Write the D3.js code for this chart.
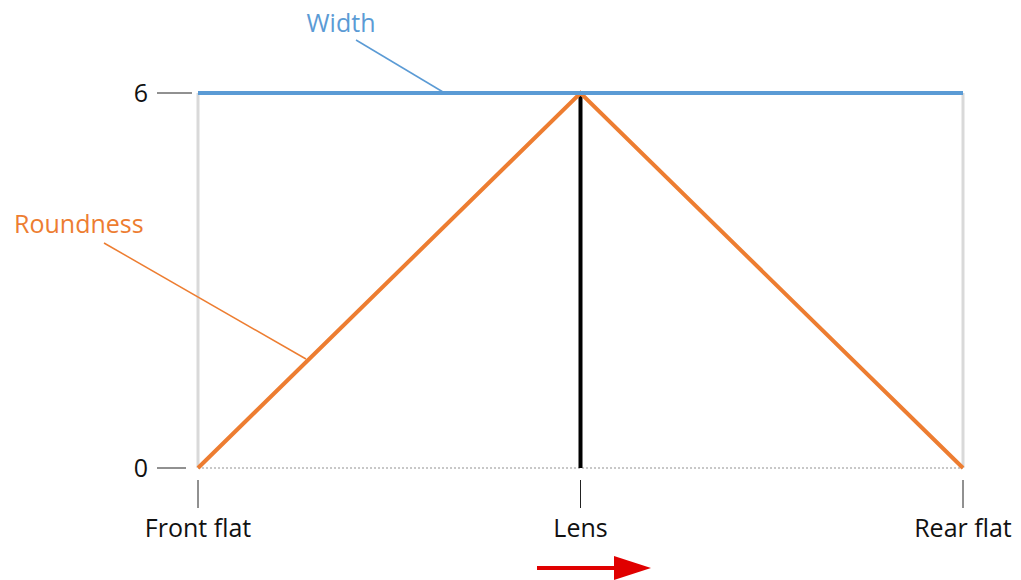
<!DOCTYPE html>
<html>
<head>
<meta charset="utf-8">
<script src="https://cdn.jsdelivr.net/npm/d3@7"></script>
<style>
  body { margin: 0; background: #fff; }
  text { font-family: "Open Sans", Lato, sans-serif; }
</style>
</head>
<body>
<div id="chart"></div>
<script>
const categories = ["Front flat", "Lens", "Rear flat"];
const widthValues = [6, 6, 6];
const roundnessValues = [0, 6, 0];
const lensValues = [0, 6];
const yTicks = [0, 6];

const width = 1021,
  height = 580;

const svg = d3.select("#chart")
  .append("svg")
  .attr("width", width)
  .attr("height", height);

const x = d3.scalePoint()
  .domain(categories)
  .range([198, 963]);

const y = d3.scaleLinear()
  .domain([0, 6])
  .range([468, 93]);

// gray frame at the ends
svg.append("g")
  .selectAll("line")
  .data([categories[0], categories[2]])
  .join("line")
  .attr("x1", d => x(d)).attr("x2", d => x(d))
  .attr("y1", y(6)).attr("y2", y(0))
  .attr("stroke", "#d9d9d9")
  .attr("stroke-width", 3);

// dotted baseline
svg.append("line")
  .attr("x1", x(categories[0])).attr("x2", x(categories[2]))
  .attr("y1", y(0)).attr("y2", y(0))
  .attr("stroke", "#c8c8c8")
  .attr("stroke-width", 2)
  .attr("stroke-dasharray", "2,2");

// y ticks
const yAxis = svg.append("g");
yAxis.selectAll("line")
  .data(yTicks)
  .join("line")
  .attr("x1", 157).attr("x2", d => d == 6 ? 192 : 186)
  .attr("y1", d => y(d)).attr("y2", d => y(d))
  .attr("stroke", "#222")
  .attr("stroke-width", 1);
yAxis.selectAll("text")
  .data(yTicks)
  .join("text")
  .attr("x", 148)
  .attr("y", d => y(d) + 9)
  .attr("text-anchor", "end")
  .attr("font-size", 25)
  .attr("fill", "#111")
  .text(d => d);

// x ticks
const xAxis = svg.append("g");
xAxis.selectAll("line")
  .data(categories)
  .join("line")
  .attr("x1", d => x(d)).attr("x2", d => x(d))
  .attr("y1", 480).attr("y2", 508)
  .attr("stroke", "#222")
  .attr("stroke-width", 1);
xAxis.selectAll("text")
  .data(categories)
  .join("text")
  .attr("x", d => x(d))
  .attr("y", 537)
  .attr("text-anchor", "middle")
  .attr("font-size", 25)
  .attr("fill", "#111")
  .text(d => d);

// lens (black vertical)
svg.append("line")
  .attr("x1", x("Lens")).attr("x2", x("Lens"))
  .attr("y1", y(lensValues[0])).attr("y2", y(lensValues[1]))
  .attr("stroke", "#000")
  .attr("stroke-width", 4);

const line = d3.line()
  .x((d, i) => x(categories[i]))
  .y(d => y(d));

svg.append("path")
  .datum(roundnessValues)
  .attr("d", line)
  .attr("fill", "none")
  .attr("stroke", "#ed7d31")
  .attr("stroke-width", 4)
  .attr("stroke-linejoin", "miter");

svg.append("path")
  .datum(widthValues)
  .attr("d", line)
  .attr("fill", "none")
  .attr("stroke", "#5b9bd5")
  .attr("stroke-width", 4);

// callouts
svg.append("line")
  .attr("x1", 356).attr("y1", 40).attr("x2", 443).attr("y2", 92)
  .attr("stroke", "#5b9bd5").attr("stroke-width", 1.5);
svg.append("text")
  .attr("x", 341).attr("y", 32)
  .attr("text-anchor", "middle")
  .attr("font-size", 25)
  .attr("fill", "#5b9bd5")
  .text("Width");

svg.append("line")
  .attr("x1", 104).attr("y1", 243).attr("x2", 306).attr("y2", 359)
  .attr("stroke", "#ed7d31").attr("stroke-width", 1.5);
svg.append("text")
  .attr("x", 14).attr("y", 233)
  .attr("font-size", 25)
  .attr("fill", "#ed7d31")
  .text("Roundness");

// direction arrow
svg.append("path")
  .attr("d", "M537,568L615,568")
  .attr("stroke", "#e00000")
  .attr("stroke-width", 4)
  .attr("fill", "none");
svg.append("path")
  .attr("d", "M614,556L651,568L614,580Z")
  .attr("fill", "#e00000");
</script>
</body>
</html>
